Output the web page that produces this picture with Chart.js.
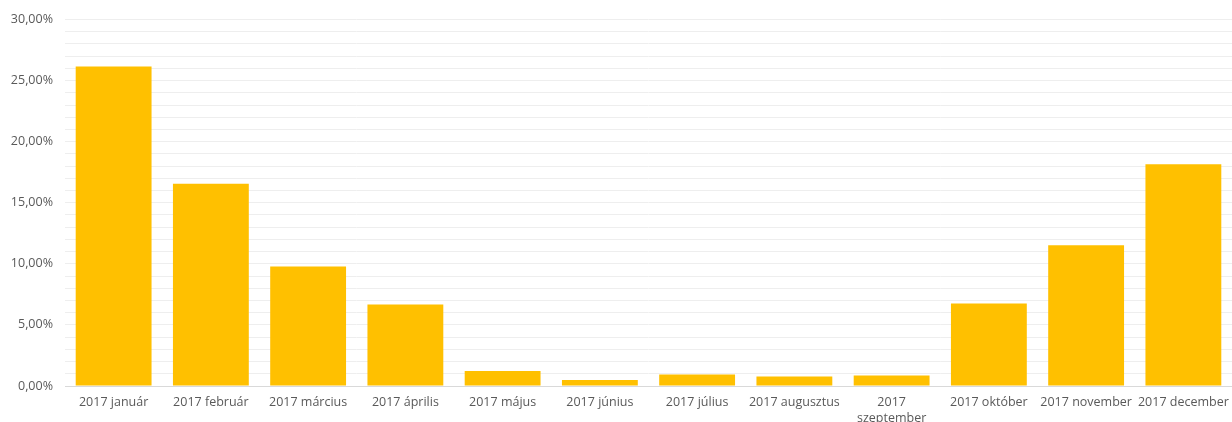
<!DOCTYPE html>
<html>
<head>
<meta charset="utf-8">
<script src="https://cdn.jsdelivr.net/npm/chart.js@4/dist/chart.umd.min.js"></script>
<style>
  html, body { margin: 0; padding: 0; background: #ffffff; }
  #wrap { width: 1232px; height: 422px; position: relative; }
</style>
</head>
<body>
<div id="wrap"><canvas id="c"></canvas></div>
<script>
// Monthly shares, 2017 (percent)
const months = [
  '2017 január', '2017 február', '2017 március', '2017 április',
  '2017 május', '2017 június', '2017 július', '2017 augusztus',
  ['2017', 'szeptember'], '2017 október', '2017 november', '2017 december'
];
const shares = [26.16, 16.55, 9.78, 6.68, 1.22, 0.50, 0.94, 0.78, 0.86, 6.75, 11.53, 18.16];
const yMax = 30;
const labelStep = 5;

const fmt = v => v.toFixed(2).replace('.', ',') + '%';

new Chart(document.getElementById('c'), {
  type: 'bar',
  data: {
    labels: months,
    datasets: [{
      data: shares,
      backgroundColor: '#FFC000',
      borderWidth: 0,
      barPercentage: 0.78,
      categoryPercentage: 1.0
    }]
  },
  options: {
    responsive: true,
    maintainAspectRatio: false,
    animation: false,
    layout: { padding: { top: 12, right: 0, bottom: 0, left: 0 } },
    plugins: { legend: { display: false }, tooltip: { enabled: false } },
    scales: {
      x: {
        grid: { display: false, drawTicks: false },
        border: { color: '#d9d9d9', width: 1 },
        ticks: {
          color: '#595959',
          font: { family: 'Open Sans', size: 12.5, lineHeight: 1.3 },
          maxRotation: 0,
          autoSkip: false,
          padding: 8
        },
        afterFit: s => { s.height = 36; s.paddingLeft = 0; s.paddingRight = 0; }
      },
      y: {
        min: 0,
        max: yMax,
        grid: { color: '#eeeeee', drawTicks: false },
        border: { display: false },
        ticks: {
          stepSize: 1,
          autoSkip: false,
          color: '#595959',
          font: { family: 'Open Sans', size: 12.5 },
          padding: 12,
          callback: v => (v % labelStep === 0 ? fmt(v) : '')
        },
        afterFit: s => { s.width = 65; }
      }
    }
  }
});
</script>
</body>
</html>
